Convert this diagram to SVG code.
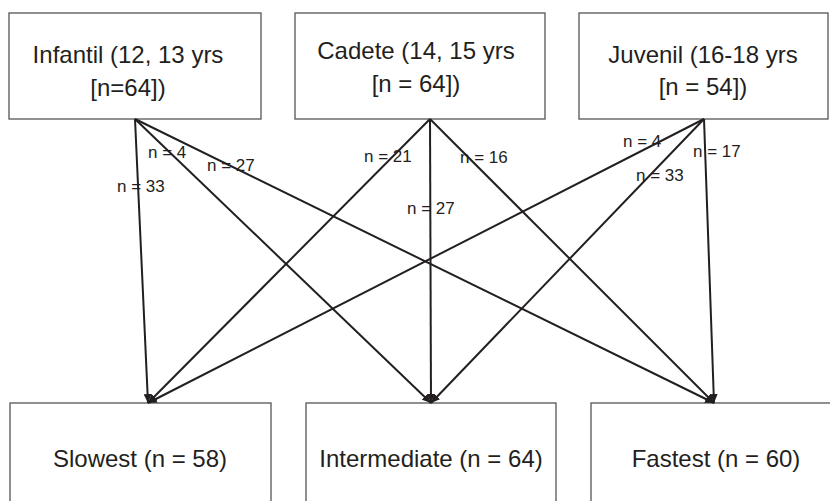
<svg xmlns="http://www.w3.org/2000/svg" width="830" height="501" viewBox="0 0 830 501">
<style>
.box{fill:#fff;stroke:#555;stroke-width:1.3}
.t{font-family:"Liberation Sans",Arial,sans-serif;font-size:24px;fill:#231f20}
.lbl{font-family:"Liberation Sans",Arial,sans-serif;font-size:17px;fill:#231f20}
.c{fill:none;stroke:#231f20;stroke-width:2}
</style>
<defs>
<marker id="ah" markerUnits="userSpaceOnUse" markerWidth="10" markerHeight="8" refX="9" refY="4" orient="auto">
<path d="M0,0 L9,4 L0,8 z" fill="#231f20"/>
</marker>
</defs>
<rect width="830" height="501" fill="#fff"/>
<g id="infantil">
<rect class="box" x="9" y="13" width="252" height="106"/>
<text class="t" x="128" y="63" text-anchor="middle">Infantil (12, 13 yrs</text>
<text class="t" x="128" y="96" text-anchor="middle">[n=64])</text>
</g>
<g id="cadete">
<rect class="box" x="295" y="13" width="250" height="106"/>
<text class="t" x="416" y="59" text-anchor="middle">Cadete (14, 15 yrs</text>
<text class="t" x="416" y="92" text-anchor="middle">[n = 64])</text>
</g>
<g id="juvenil">
<rect class="box" x="579" y="13" width="249" height="106"/>
<text class="t" x="703" y="63" text-anchor="middle">Juvenil (16-18 yrs</text>
<text class="t" x="703" y="95" text-anchor="middle">[n = 54])</text>
</g>
<g id="slowest">
<rect class="box" x="10" y="403" width="261" height="110"/>
<text class="t" x="140" y="467" text-anchor="middle">Slowest (n = 58)</text>
</g>
<g id="intermediate">
<rect class="box" x="306" y="403" width="250" height="110"/>
<text class="t" x="431" y="467" text-anchor="middle">Intermediate (n = 64)</text>
</g>
<g id="fastest">
<rect class="box" x="591" y="403" width="250" height="110"/>
<text class="t" x="716" y="467" text-anchor="middle">Fastest (n = 60)</text>
</g>
<g id="connectors">
<line class="c" x1="135" y1="119" x2="148" y2="403" marker-end="url(#ah)"/>
<line class="c" x1="135" y1="119" x2="431" y2="403" marker-end="url(#ah)"/>
<line class="c" x1="135" y1="119" x2="714" y2="403" marker-end="url(#ah)"/>
<line class="c" x1="430" y1="119" x2="148" y2="403" marker-end="url(#ah)"/>
<line class="c" x1="430" y1="119" x2="431" y2="403" marker-end="url(#ah)"/>
<line class="c" x1="430" y1="119" x2="714" y2="403" marker-end="url(#ah)"/>
<line class="c" x1="704" y1="119" x2="148" y2="403" marker-end="url(#ah)"/>
<line class="c" x1="704" y1="119" x2="431" y2="403" marker-end="url(#ah)"/>
<line class="c" x1="704" y1="119" x2="714" y2="403" marker-end="url(#ah)"/>
</g>
<g id="labels">
<text class="lbl" x="148" y="158">n = 4</text>
<text class="lbl" x="207" y="171">n = 27</text>
<text class="lbl" x="117" y="192">n = 33</text>
<text class="lbl" x="364" y="162">n = 21</text>
<text class="lbl" x="460" y="163">n = 16</text>
<text class="lbl" x="407" y="214">n = 27</text>
<text class="lbl" x="623" y="147">n = 4</text>
<text class="lbl" x="693" y="157">n = 17</text>
<text class="lbl" x="636" y="181">n = 33</text>
</g>
</svg>
